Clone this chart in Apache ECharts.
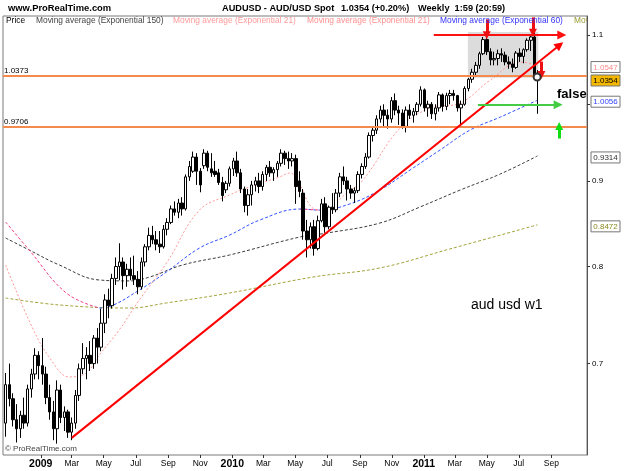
<!DOCTYPE html>
<html><head><meta charset="utf-8">
<script src="https://cdn.jsdelivr.net/npm/echarts@6/dist/echarts.min.js"></script>
<style>html,body{margin:0;padding:0;background:#fff}#c{width:625px;height:471px}</style>
</head><body><div id="c"></div>
<script>
// ---- data (weekly AUD/USD, weeks counted from the first bar) ----
const firstWeek = '2008-10-26';
const opens = [
.645,.680,.667,.648,.640,.652,.645,.676,.690,.708,
.698,.690,.668,.655,.640,.675,.650,.655,.637,.645,
.670,.695,.705,.708,.700,.725,.716,.740,.764,.758,
.787,.800,.805,.790,.797,.790,.786,.778,.805,.822,
.835,.830,.825,.822,.842,.850,.866,.862,.873,.866,
.905,.912,.930,.912,.919,.935,.915,.912,.910,.898,
.889,.897,.915,.925,.910,.890,.870,.883,.895,.900,
.893,.908,.917,.910,.914,.922,.935,.928,.925,.928,
.900,.885,.840,.830,.845,.820,.852,.872,.845,.868,
.865,.885,.905,.900,.890,.885,.888,.908,.918,.930,
.958,.965,.980,.992,.985,.980,1.005,.992,.988,.970,
.992,.985,.990,1.000,1.020,.995,1.000,.987,.995,1.013,
.997,1.012,1.015,1.012,.995,1.000,1.022,1.035,1.045,1.055,
1.072,1.093,1.075,1.063,1.065,1.072,1.070,1.060,1.057,1.052,
1.073,1.068,1.078,1.092,1.097,1.040];
const highs = [
.691,.700,.672,.662,.656,.668,.680,.695,.715,.712,
.725,.697,.680,.665,.684,.680,.660,.657,.650,.675,
.700,.720,.716,.722,.728,.735,.755,.770,.776,.792,
.810,.826,.810,.803,.810,.812,.795,.810,.825,.844,
.846,.840,.840,.847,.855,.870,.875,.878,.880,.908,
.925,.937,.935,.916,.940,.938,.935,.925,.915,.905,
.900,.918,.929,.937,.915,.893,.890,.900,.905,.910,
.912,.920,.925,.917,.925,.940,.938,.937,.935,.933,
.912,.890,.853,.850,.853,.858,.878,.880,.870,.885,
.890,.910,.918,.905,.895,.892,.912,.922,.935,.962,
.970,.985,.998,1.000,.993,1.010,1.015,.998,.993,.997,
1.000,.995,1.003,1.025,1.022,1.005,1.003,1.000,1.017,1.015,
1.016,1.020,1.020,1.013,1.005,1.025,1.037,1.050,1.060,1.075,
1.097,1.101,1.080,1.075,1.078,1.080,1.075,1.068,1.065,1.076,
1.080,1.080,1.095,1.100,1.108,1.048];
const lows = [
.633,.660,.642,.628,.632,.640,.642,.668,.685,.685,
.680,.662,.648,.630,.627,.645,.638,.632,.630,.640,
.665,.690,.685,.693,.695,.700,.712,.730,.745,.755,
.780,.785,.775,.778,.785,.780,.770,.775,.800,.818,
.825,.818,.815,.820,.835,.848,.858,.855,.858,.864,
.900,.910,.895,.886,.915,.912,.905,.905,.895,.875,
.885,.893,.906,.905,.885,.862,.858,.870,.887,.885,
.888,.900,.905,.900,.905,.918,.920,.915,.918,.872,
.880,.830,.810,.820,.812,.818,.850,.838,.842,.860,
.862,.880,.895,.876,.878,.873,.885,.903,.915,.928,
.950,.960,.975,.970,.967,.975,.985,.972,.967,.962,
.980,.975,.985,.997,.990,.983,.980,.978,.990,.990,
.992,1.000,1.005,.990,.970,.998,1.018,1.030,1.040,1.050,
1.070,1.070,1.055,1.055,1.055,1.060,1.055,1.050,1.045,1.050,
1.060,1.058,1.075,1.076,1.036,.987];
const closes = [
.680,.667,.648,.640,.652,.645,.676,.690,.708,.698,
.690,.668,.655,.640,.675,.650,.655,.637,.645,.670,
.695,.705,.708,.700,.725,.716,.740,.764,.758,.787,
.800,.805,.790,.797,.790,.786,.778,.805,.822,.835,
.830,.825,.822,.842,.850,.866,.862,.873,.866,.905,
.918,.930,.912,.895,.935,.917,.910,.908,.898,.882,
.897,.915,.925,.910,.890,.870,.883,.895,.900,.893,
.908,.917,.910,.914,.922,.935,.928,.925,.928,.893,
.887,.840,.830,.845,.820,.852,.872,.845,.868,.865,
.885,.905,.900,.890,.885,.888,.908,.918,.930,.958,
.965,.980,.992,.985,.980,1.005,.992,.988,.970,.992,
.985,.990,1.000,1.020,.995,1.000,.987,.995,1.013,.997,
1.012,1.015,1.012,.995,1.000,1.022,1.035,1.045,1.055,1.072,
1.093,1.075,1.063,1.065,1.072,1.070,1.060,1.057,1.052,1.073,
1.068,1.078,1.092,1.097,1.040,1.0354];

// moving averages: [week number, value]
const ema150 = [[0,.832],[6.4,.8184],[14.6,.8017],[25.5,.7853],[33.7,.7843],[39.2,.7885],[48.2,.8017],[61,.8128],[80.1,.8331],[87.5,.8377],[101.9,.8493],[112.8,.8682],[123.8,.8888],[134.7,.9086],[144.8,.9314]];
const ema21 = [[0,.8017],[7.2,.7361],[12.4,.7035],[17.3,.6873],[21.9,.6910],[25.5,.7083],[30.9,.7330],[36.4,.7640],[43.8,.8039],[52.8,.8646],[61,.8828],[65.6,.8912],[74.6,.9049],[77.4,.9099],[80.1,.8950],[83.6,.8670],[86.4,.8646],[92.9,.8851],[97.3,.9011],[107.4,.9679],[115.6,.9949],[123.8,1.0018],[132,1.0340],[140.2,1.0599],[144.8,1.0547]];
const ema60 = [[0,.8505],[6.4,.8184],[16.5,.7714],[25.5,.7556],[28.2,.7570],[36.4,.7745],[43.8,.7940],[52.8,.8206],[61,.8354],[69.2,.8528],[80.1,.8658],[85.6,.8646],[93.7,.8719],[101.9,.8888],[110.1,.9135],[118.3,.9391],[126.5,.9653],[134.7,.9826],[144.8,1.0056]];
const emaOlive = [[0,.7661],[14.6,.7588],[33.7,.7556],[43.8,.7609],[61,.7714],[83.7,.7885],[101.9,.7984],[121,.8196],[144.8,.8472]];
const lastValues = {ema21: 1.0547, price: 1.0354, ema60: 1.0056, ema150: 0.9314, olive: 0.8472};
const levels = [1.0373, 0.9706];
const xTickDates = ['2009-01-01','2009-03-01','2009-05-01','2009-07-01','2009-09-01','2009-11-01','2010-01-01','2010-03-01','2010-05-01','2010-07-01','2010-09-01','2010-11-01','2011-01-01','2011-03-01','2011-05-01','2011-07-01','2011-09-01'];
const yTicks = [0.7, 0.8, 0.9, 1.0, 1.1];
const yLabels = [0.7, 0.8, 0.9, 1.1];
const months = ['Jan','Feb','Mar','Apr','May','Jun','Jul','Aug','Sep','Oct','Nov','Dec'];

// ---- helpers ----
const DAY = 86400000;
const ts = s => { const p = s.split('-'); return Date.UTC(+p[0], +p[1]-1, +p[2]); };
const t0 = ts(firstWeek);
const wk = i => t0 + i * 7 * DAY;
const rows = opens.map((o, i) => [wk(i), o, closes[i], lows[i], highs[i]]);
const pts = arr => arr.map(p => [wk(p[0]), p[1]]);
const FONT = 'Liberation Sans, Arial, sans-serif';

const chart = echarts.init(document.getElementById('c'), null, {renderer: 'canvas'});
const option = {
  animation: false,
  backgroundColor: '#ffffff',
  textStyle: {fontFamily: FONT},
  grid: {left: 3, right: 38, top: 16, bottom: 16, show: true, borderColor: '#7a7a7a', borderWidth: 1},
  dataset: {source: rows},
  xAxis: {
    type: 'value', min: ts('2008-10-21'), max: ts('2011-11-08'),
    axisLine: {show: false}, splitLine: {show: false},
    axisTick: {show: true, customValues: xTickDates.map(ts), length: 3, lineStyle: {color: '#333'}},
    axisLabel: {
      show: true, customValues: xTickDates.map(ts), hideOverlap: false, margin: 4,
      fontSize: 8.5, color: '#000', fontFamily: FONT,
      formatter: v => { const d = new Date(v); const m = d.getUTCMonth(); return m === 0 ? '{y|' + d.getUTCFullYear() + '}' : months[m]; },
      rich: {y: {fontWeight: 'bold', fontSize: 10.5, color: '#000', fontFamily: FONT}}
    }
  },
  yAxis: {
    type: 'log', logBase: 10, min: 0.6173, max: 1.1291, position: 'right',
    axisLine: {show: true, lineStyle: {color: '#555'}}, splitLine: {show: false},
    axisTick: {show: true, customValues: yTicks, length: 3, lineStyle: {color: '#333'}},
    axisLabel: {customValues: yLabels, formatter: v => (+v).toFixed(1), fontSize: 8, color: '#000', margin: 5, fontFamily: FONT}
  },
  series: [
    {type: 'line', name: 'olive', data: pts(emaOlive), smooth: 0.4, symbol: 'none', z: 1,
     lineStyle: {color: '#a3a33a', width: 1, type: [3, 2]}},
    {type: 'line', name: 'ema150', data: pts(ema150), smooth: 0.4, symbol: 'none', z: 1,
     lineStyle: {color: '#3c3c3c', width: 1, type: [3, 2]}},
    {type: 'line', name: 'ema60', data: pts(ema60.slice(3)), smooth: 0.4, symbol: 'none', z: 1,
     lineStyle: {color: '#3050ff', width: 1, type: [3, 2]}},
    {type: 'line', name: 'ema60fall', data: pts(ema60.slice(0, 4)), smooth: 0.4, symbol: 'none', z: 1,
     lineStyle: {color: '#f0408c', width: 1, type: [3, 2]}},
    {type: 'line', name: 'ema60fall2', data: pts(ema60.slice(10, 12)), smooth: 0.4, symbol: 'none', z: 1,
     lineStyle: {color: '#f0408c', width: 1, type: [3, 2]}},
    {type: 'line', name: 'ema21', data: pts(ema21), smooth: 0.4, symbol: 'none', z: 1,
     lineStyle: {color: '#ff9898', width: 1, type: [2, 2]}},
    {
      type: 'candlestick', name: 'Price', encode: {x: 0, y: [1, 2, 3, 4]}, barWidth: 3, z: 3,
      itemStyle: {color: '#ffffff', color0: '#000000', borderColor: '#000000', borderColor0: '#000000', borderWidth: 1},
      markArea: {silent: true, z: 1, itemStyle: {color: '#dcdcdc'},
        data: [[{coord: [ts('2011-03-26'), 1.1045]}, {coord: [ts('2011-08-07'), 1.0373]}]]}
    },
    {
      type: 'line', name: 'annot', data: [], z: 6,
      markLine: {
        silent: true, animation: false, symbol: 'none',
        data: [
          {yAxis: levels[0], lineStyle: {color: '#f58a4e', width: 2, type: 'solid'}, symbol: 'none',
           label: {show: true, position: 'insideStartTop', formatter: '1.0373', color: '#000', fontSize: 8, distance: [1, 1]}},
          {yAxis: levels[1], lineStyle: {color: '#f58a4e', width: 2, type: 'solid'}, symbol: 'none',
           label: {show: true, position: 'insideStartTop', formatter: '0.9706', color: '#000', fontSize: 8, distance: [1, 1]}},
          [{coord: [ts('2009-03-01'), 0.632], symbol: 'none', lineStyle: {color: '#ff0000', width: 2, type: 'solid'}, label: {show: false}},
           {coord: [ts('2011-09-17'), 1.085], symbol: 'triangle', symbolSize: 9}],
          [{coord: [ts('2011-01-20'), 1.100], symbol: 'none', lineStyle: {color: '#ff1010', width: 2, type: 'solid'}, label: {show: false}},
           {coord: [ts('2011-09-21'), 1.100], symbol: 'triangle', symbolSize: 9}],
          [{coord: [ts('2011-04-14'), 0.9995], symbol: 'none', lineStyle: {color: '#44cc44', width: 2, type: 'solid'}, label: {show: false}},
           {coord: [ts('2011-09-14'), 0.9995], symbol: 'triangle', symbolSize: 9}],
          [{coord: [ts('2011-05-01'), 1.124], symbol: 'none', lineStyle: {color: '#ee1111', width: 3, type: 'solid'}, label: {show: false}},
           {coord: [ts('2011-05-01'), 1.0995], symbol: 'triangle', symbolSize: 8}],
          [{coord: [ts('2011-07-28'), 1.127], symbol: 'none', lineStyle: {color: '#ee1111', width: 3, type: 'solid'}, label: {show: false}},
           {coord: [ts('2011-07-28'), 1.1035], symbol: 'triangle', symbolSize: 8}],
          [{coord: [ts('2011-08-13'), 1.0605], symbol: 'none', lineStyle: {color: '#ee1111', width: 3, type: 'solid'}, label: {show: false}},
           {coord: [ts('2011-08-13'), 1.041], symbol: 'triangle', symbolSize: 8}],
          [{coord: [ts('2011-09-16'), 0.954], symbol: 'none', lineStyle: {color: '#11dd11', width: 3, type: 'solid'}, label: {show: false}},
           {coord: [ts('2011-09-16'), 0.9705], symbol: 'triangle', symbolSize: 8}]
        ]
      },
      markPoint: {silent: true, symbol: 'emptyCircle', symbolSize: 7, itemStyle: {color: '#333', borderWidth: 1}, label: {show: false},
        data: [{coord: [ts('2011-08-05'), 1.0383]}]}
    }
  ]
};
chart.setOption(option);

// value boxes on the right, placed at their values
const py = v => chart.convertToPixel({yAxisIndex: 0}, v);
const box = (v, txt, col, bg) => ({
  type: 'group', x: 591, y: py(v) - 4, z: 100, children: [
    {type: 'rect', shape: {x: 0, y: 0, width: 29, height: 11}, style: {fill: bg, stroke: '#777', lineWidth: 1}},
    {type: 'text', x: 14.5, y: 6, style: {text: txt, fill: col, font: '8px ' + FONT, align: 'center', verticalAlign: 'middle'}}
  ]
});
const txt = (x, y, s, col, font, extra) => Object.assign({type: 'text', x: x, y: y, z: 100, style: Object.assign({text: s, fill: col, font: font, verticalAlign: 'middle'}, extra || {})});
chart.setOption({graphic: [
  txt(8, 8, 'www.ProRealTime.com', '#000', 'bold 9.4px ' + FONT),
  txt(222, 8, 'AUDUSD - AUD/USD Spot', '#000', 'bold 9.2px ' + FONT),
  txt(341, 8, '1.0354 (+0.20%)', '#000', 'bold 9.2px ' + FONT),
  txt(418, 8, 'Weekly  1:59 (20:59)', '#000', 'bold 9.2px ' + FONT),
  txt(6, 21, 'Price', '#000', '8.4px ' + FONT),
  txt(36, 21, 'Moving average (Exponential 150)', '#444', '8.4px ' + FONT),
  txt(173, 21, 'Moving average (Exponential 21)', '#ff9a9a', '8.4px ' + FONT),
  txt(307, 21, 'Moving average (Exponential 21)', '#ff9090', '8.4px ' + FONT),
  txt(440, 21, 'Moving average (Exponential 60)', '#3333ff', '8.4px ' + FONT),
  {type: 'group', z: 100, children: [txt(574, 21, 'Moving average (Exponential 200)', '#999933', '8.4px ' + FONT)],
   clipPath: {type: 'rect', shape: {x: 570, y: 14, width: 17, height: 14}}},
  txt(5, 449, '© ProRealTime.com', '#444', '8px ' + FONT),
  txt(557, 94, 'false', '#000', 'bold 13px ' + FONT),
  txt(471, 305, 'aud usd w1', '#000', '14px ' + FONT),
  box(lastValues.ema21, '1.0547', '#ff8c8c', '#fff'),
  box(lastValues.price, '1.0354', '#000', '#f5b800'),
  box(lastValues.ema60, '1.0056', '#3344ff', '#fff'),
  box(lastValues.ema150, '0.9314', '#333', '#fff'),
  box(lastValues.olive, '0.8472', '#8a8a20', '#fff')
]});
</script>
</body></html>
